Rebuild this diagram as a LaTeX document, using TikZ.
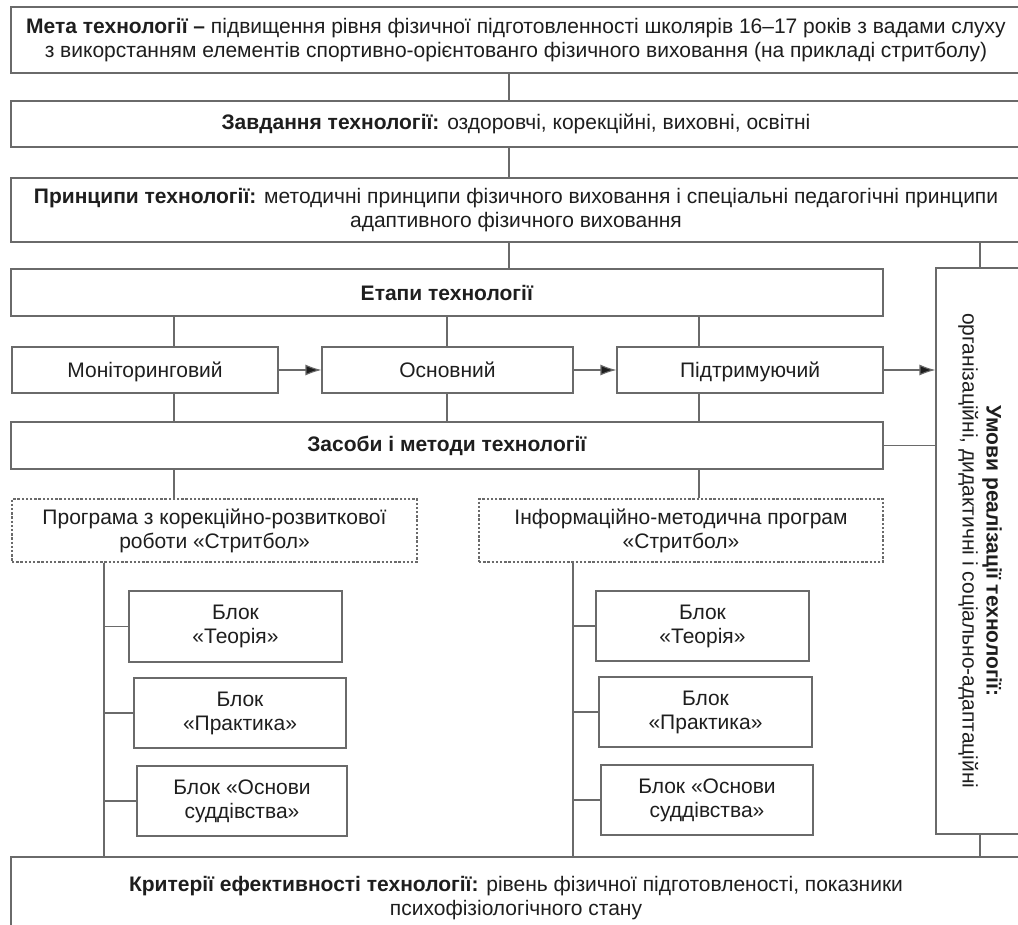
\documentclass[tikz,border=0pt]{standalone}
\usepackage{fontspec}
\setmainfont{Liberation Sans}
\usepackage{xcolor}
\usepackage{tikz}
\usetikzlibrary{calc}
\usetikzlibrary{arrows.meta}
\definecolor{linegray}{HTML}{6A6A6A}
\definecolor{textgray}{HTML}{1E1E1E}
\tikzset{
  box/.style={draw=linegray, line width=1.1pt, inner sep=2pt, align=center,
    text=textgray, font=\fontsize{21}{24}\selectfont},
  stagebox/.style={box, minimum height=46, text height=16pt, text depth=1pt},
  dbox/.style={box, dash pattern=on 2.4pt off 1.8pt},
  conn/.style={draw=linegray, line width=1.1pt},
  flow/.style={conn, -{Latex[length=16pt,width=11pt,fill=textgray]}}
}

\begin{document}
\begin{tikzpicture}[x=1pt,y=-1pt]
                \useasboundingbox (0,0) rectangle (1018,925);
                \clip (0,0) rectangle (1018,925);
                \fill[white] (0,0) rectangle (1018,925);
                % columns of the vertical connectors
                \coordinate (mid) at (509,0);
                \coordinate (colA) at (174,0);
                \coordinate (colB) at (447,0);
                \coordinate (colC) at (699,0);
                \coordinate (spineA) at (104,0);
                \coordinate (spineB) at (573,0);

                \node[box, minimum width=1010, minimum height=66] (goal) at (516,40)
                  {\textbf{Мета технології –} підвищення рівня фізичної підготовленності школярів 16–17 років з вадами слуху\\
                   з викорстанням елементів спортивно-орієнтованго фізичного виховання (на прикладі стритболу)};
                \node[box, minimum width=1010, minimum height=46] (tasks) at (516,124)
                  {\textbf{Завдання технології:} оздоровчі, корекційні, виховні, освітні};
                \node[box, minimum width=1010, minimum height=64] (princ) at (516,210)
                  {\textbf{Принципи технології:} методичні принципи фізичного виховання і спеціальні педагогічні принципи\\
                   адаптивного фізичного виховання};
                \node[box, minimum width=872, minimum height=47] (stages) at (447,292.5)
                  {\textbf{Етапи технології}};
                \node[stagebox, minimum width=266] (mon) at (145,370) {Моніторинговий};
                \node[stagebox, minimum width=251] (main) at (447.5,370) {Основний};
                \node[stagebox, minimum width=266] (supp) at (750,370) {Підтримуючий};
                \node[box, minimum width=872, minimum height=47] (means) at (447,445.5)
                  {\textbf{Засоби і методи технології}};
                \node[box, rotate=-90, minimum width=566, minimum height=88] (cond) at (980,551)
                  {\textbf{Умови реалізації технології:}\\ організаційні, дидактичні і соціально-адаптаційні};

                \node[dbox, minimum width=405, minimum height=63] (progA) at (214.5,530.5)
                  {Програма з корекційно-розвиткової\\ роботи «Стритбол»};
                \node[dbox, minimum width=404, minimum height=63] (progB) at (681,530.5)
                  {Інформаційно-методична програм\\ «Стритбол»};

                \node[box, minimum width=213, minimum height=71] (theoryA) at (235.5,626.5) {Блок\\ «Теорія»};
                \node[box, minimum width=212, minimum height=70] (practA) at (240,713) {Блок\\ «Практика»};
                \node[box, minimum width=210, minimum height=70] (refA) at (242,801) {Блок «Основи\\ суддівства»};
                \node[box, minimum width=213, minimum height=70] (theoryB) at (702.5,626) {Блок\\ «Теорія»};
                \node[box, minimum width=213, minimum height=70] (practB) at (705.5,712) {Блок\\ «Практика»};
                \node[box, minimum width=212, minimum height=70] (refB) at (707,800) {Блок «Основи\\ суддівства»};

                \node[box, minimum width=1010, minimum height=82] (crit) at (516,898)
                  {\textbf{Критерії ефективності технології:} рівень фізичної підготовленості, показники\\
                   психофізіологічного стану};

                % main chain
                \draw[conn] (goal.south -| mid) -- (tasks.north -| mid);
                \draw[conn] (tasks.south -| mid) -- (princ.north -| mid);
                \draw[conn] (princ.south -| mid) -- (stages.north -| mid);
                \draw[conn] (princ.south -| cond.center) -- (cond.west);
                \draw[conn] (cond.east) -- (crit.north -| cond.center);

                % stages
                \draw[conn] (stages.south -| colA) -- (mon.north -| colA);
                \draw[conn] (stages.south -| colB) -- (main.north -| colB);
                \draw[conn] (stages.south -| colC) -- (supp.north -| colC);
                \draw[flow] (mon) -- (main);
                \draw[flow] (main) -- (supp);
                \draw[flow] (supp.east) -- (supp.east -| cond.south);
                \draw[conn] (mon.south -| colA) -- (means.north -| colA);
                \draw[conn] (main.south -| colB) -- (means.north -| colB);
                \draw[conn] (supp.south -| colC) -- (means.north -| colC);
                \draw[conn] (means.east) -- (means.east -| cond.south);

                % programs
                \draw[conn] (means.south -| colA) -- (progA.north -| colA);
                \draw[conn] (means.south -| colC) -- (progB.north -| colC);
                \draw[conn] (progA.south -| spineA) -- (crit.north -| spineA);
                \draw[conn] (progB.south -| spineB) -- (crit.north -| spineB);
                \foreach \blk in {theoryA,practA,refA}
                  \draw[conn] (\blk.west -| spineA) -- (\blk.west);
                \foreach \blk in {theoryB,practB,refB}
                  \draw[conn] (\blk.west -| spineB) -- (\blk.west);
            \end{tikzpicture}
\end{document}
